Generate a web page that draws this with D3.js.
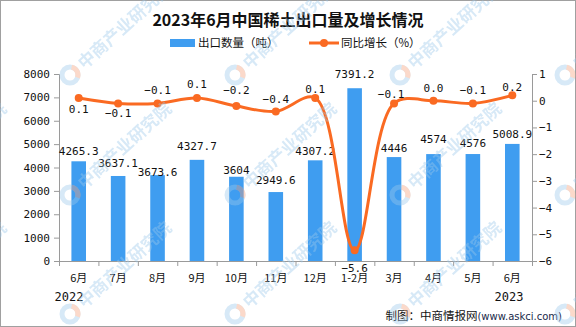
<!DOCTYPE html>
<html><head><meta charset="utf-8">
<script src="https://cdn.jsdelivr.net/npm/d3@7/dist/d3.min.js"></script>
<style>
html,body{margin:0;padding:0;background:#fff;}
svg{display:block;}
</style></head>
<body>
<svg id="chart" width="576" height="327"></svg>
<script>
const categories = ["6月","7月","8月","9月","10月","11月","12月","1-2月","3月","4月","5月","6月"];
const exportVolume = [4265.3, 3637.1, 3673.6, 4327.7, 3604, 2949.6, 4307.2, 7391.2, 4446, 4574, 4576, 5008.9];
const exportVolumeLabels = ["4265.3","3637.1","3673.6","4327.7","3604","2949.6","4307.2","7391.2","4446","4574","4576","5008.9"];
const yoyGrowth = [0.1, -0.1, -0.1, 0.1, -0.2, -0.4, 0.1, -5.6, -0.1, 0.0, -0.1, 0.2];
const yoyLabels = ["0.1","\u22120.1","\u22120.1","0.1","\u22120.2","\u22120.4","0.1","\u22125.6","\u22120.1","0.0","\u22120.1","0.2"];
const leftTicks = [0,1000,2000,3000,4000,5000,6000,7000,8000];
const rightTicks = [-6,-5,-4,-3,-2,-1,0,1];
const yearLabels = ["2022","2023"];
const title = "2023年6月中国稀土出口量及增长情况";
const legendNames = ["出口数量（吨）","同比增长（%）"];
const sourceText = "制图：中商情报网";
const sourceUrl = "(www.askci.com)";
const watermarkText = "中商产业研究院";

// label nudges (layout, in px)
const barLabelDy = [-6,-9,1,-10,-3,-8,-5,-10,-5,-11,-7,-6];
const yoyLabelDy = [15,14,-9,-10,-12,-8,-5,22,-5,-9,-9,-4];

const W = 576, H = 327;
const L = 59, R = 532, T = 74, B = 261;
const barColor = "#3F9DF0", lineColor = "#FA6A22";
const monoFont = "'DejaVu Sans Mono', 'Liberation Mono', monospace";
const cjkFont = "'Noto Sans CJK SC', 'Noto Sans', sans-serif";

const svg = d3.select("#chart");
svg.append("rect").attr("x",0.5).attr("y",0.5).attr("width",W-1).attr("height",H-1)
  .attr("fill","#fff").attr("stroke","#a0a0a0");

const x = d3.scaleBand().domain(d3.range(categories.length)).range([L,R]).paddingInner(0.63).paddingOuter(0.315);
const xEdge = d3.scaleLinear().domain([0,categories.length]).range([L,R]);
const yL = d3.scaleLinear().domain([0,8000]).range([B,T]);
const yR = d3.scaleLinear().domain([-6,1]).range([B,T]);
const cx = i => x(i) + x.bandwidth()/2;

// axes
const axisColor = "#9a9a9a";
const gl = svg.append("g").attr("transform",`translate(${L},0)`)
  .call(d3.axisLeft(yL).tickValues(leftTicks).tickSize(5).tickPadding(4).tickFormat(d3.format("d")));
const gr = svg.append("g").attr("transform",`translate(${R},0)`)
  .call(d3.axisRight(yR).tickValues(rightTicks).tickSize(5).tickPadding(2).tickFormat(d3.format("d")));
const gb = svg.append("g").attr("transform",`translate(0,${B})`)
  .call(d3.axisBottom(xEdge).tickValues(d3.range(categories.length+1)).tickSize(5).tickFormat(""));
[gl,gr,gb].forEach(g=>{
  g.selectAll("path.domain").attr("stroke",axisColor);
  g.selectAll(".tick line").attr("stroke",axisColor);
  g.selectAll("text").attr("fill","#111").attr("font-family",monoFont).attr("font-size",11);
});

// bars
svg.append("g").selectAll("rect").data(exportVolume).join("rect")
  .attr("x",(d,i)=>x(i)).attr("width",x.bandwidth())
  .attr("y",d=>yL(d)).attr("height",d=>B-yL(d)).attr("fill",barColor);

// bar labels
svg.append("g").selectAll("text").data(exportVolume).join("text")
  .attr("x",(d,i)=>cx(i)).attr("y",(d,i)=>yL(d)+barLabelDy[i])
  .attr("text-anchor","middle").attr("font-family",monoFont).attr("font-size",11).attr("fill","#111")
  .text((d,i)=>exportVolumeLabels[i]);

// line
const line = d3.line().x((d,i)=>cx(i)).y(d=>yR(d)).curve(d3.curveCatmullRom.alpha(0.5));
svg.append("path").datum(yoyGrowth).attr("d",line).attr("fill","none")
  .attr("stroke",lineColor).attr("stroke-width",3);
svg.append("g").selectAll("circle").data(yoyGrowth).join("circle")
  .attr("cx",(d,i)=>cx(i)).attr("cy",d=>yR(d)).attr("r",4).attr("fill",lineColor);

// line labels
svg.append("g").selectAll("text").data(yoyGrowth).join("text")
  .attr("x",(d,i)=>cx(i) - (i===8?3:0)).attr("y",(d,i)=>yR(d)+yoyLabelDy[i])
  .attr("text-anchor","middle").attr("font-family",monoFont).attr("font-size",11).attr("fill","#111")
  .text((d,i)=>yoyLabels[i]);

// category labels
svg.append("g").selectAll("text").data(categories).join("text")
  .attr("x",(d,i)=>cx(i)).attr("y",282)
  .attr("text-anchor","middle").attr("font-family",cjkFont).attr("font-size",11).attr("fill","#111")
  .text(d=>d);
svg.append("g").selectAll("text").data(yearLabels).join("text")
  .attr("x",(d,i)=>i===0?69:509).attr("y",301)
  .attr("text-anchor","middle").attr("font-family",monoFont).attr("font-size",12).attr("fill","#111")
  .text(d=>d);

// title
svg.append("text").attr("x",W/2).attr("y",26).attr("text-anchor","middle")
  .attr("font-family",cjkFont).attr("font-size",16).attr("font-weight","bold").attr("fill","#111").text(title);

// legend
const lg = svg.append("g").attr("font-family",cjkFont).attr("font-size",11.5).attr("fill","#111");
lg.append("rect").attr("x",170).attr("y",39).attr("width",25).attr("height",8).attr("fill",barColor);
lg.append("text").attr("x",198).attr("y",47).text(legendNames[0]);
lg.append("line").attr("x1",309).attr("x2",339).attr("y1",43).attr("y2",43).attr("stroke",lineColor).attr("stroke-width",3);
lg.append("circle").attr("cx",324).attr("cy",43).attr("r",4).attr("fill",lineColor);
lg.append("text").attr("x",341).attr("y",47).text(legendNames[1]);

// source
const src = svg.append("text").attr("x",562).attr("y",320).attr("text-anchor","end")
  .attr("font-family",cjkFont).attr("font-size",11.5).attr("fill","#111");
src.append("tspan").text(sourceText);
src.append("tspan").attr("font-family","'DejaVu Sans', sans-serif").attr("font-size",10).attr("fill","#1a2a4a").text(sourceUrl);

// watermarks (on top, faint)
const wm = svg.append("g").attr("opacity",0.4).style("pointer-events","none");
const wmCols = [-95,70,235,400,565], wmRows = [75,195,314];
wmRows.forEach(yy=>wmCols.forEach(xx=>{
  const g = wm.append("g").attr("transform",`translate(${xx},${yy})`);
  g.append("circle").attr("r",8).attr("fill","none").attr("stroke","#9cc8ea").attr("stroke-width",5);
  g.append("path").attr("d",d3.arc()({innerRadius:5.5,outerRadius:10.5,startAngle:0.2,endAngle:1.9})).attr("fill","#f4a07a");
  g.append("text").attr("transform","rotate(-42)").attr("x",14).attr("y",6)
    .attr("font-family",cjkFont).attr("font-size",17).attr("font-weight","bold").attr("fill","#9cc8ea")
    .text(watermarkText);
}));
</script>
</body></html>
